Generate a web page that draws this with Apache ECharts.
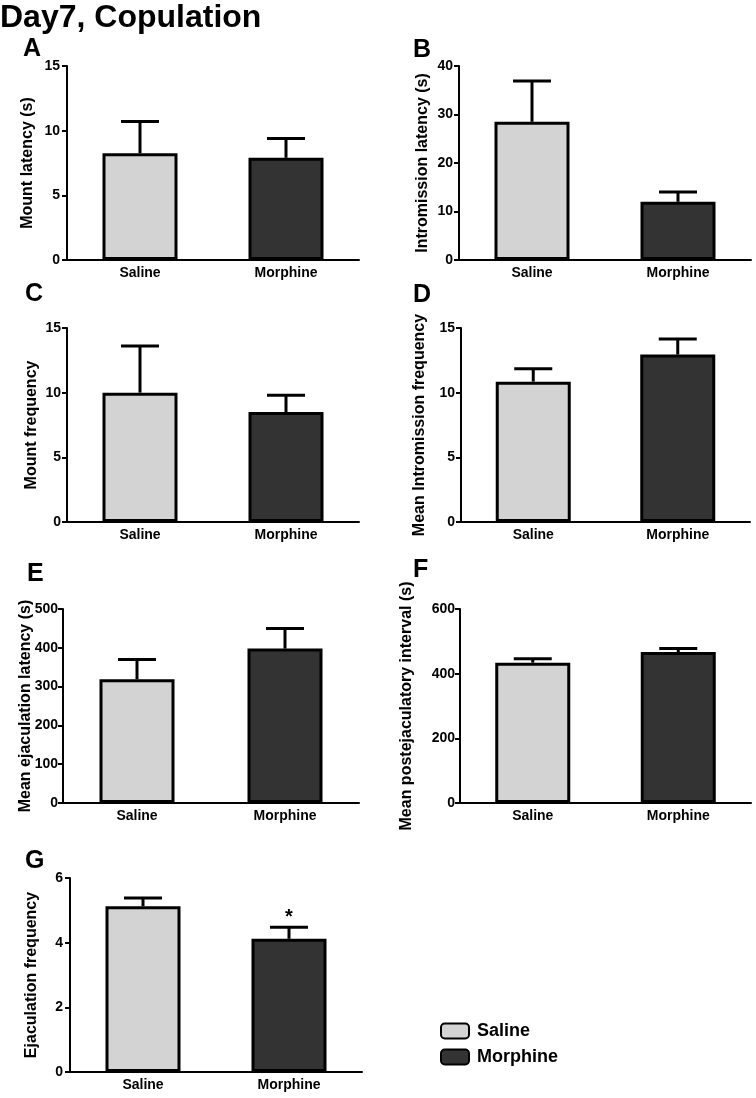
<!DOCTYPE html>
<html>
<head>
<meta charset="utf-8">
<script src="https://cdn.jsdelivr.net/npm/echarts@6/dist/echarts.min.js"></script>
<style>
html,body{margin:0;padding:0;background:#fff;}
#chart{width:756px;height:1098px;}
</style>
</head>
<body>
<div id="chart"></div>
<script>
// ---- data ----
const categories = ['Saline', 'Morphine'];
const panelLetters = ['A', 'B', 'C', 'D', 'E', 'F', 'G'];
const yAxisNames = ['Mount latency (s)', 'Intromission latency (s)', 'Mount frequency',
  'Mean Intromission frequency', 'Mean ejaculation latency (s)',
  'Mean postejaculatory interval (s)', 'Ejaculation frequency'];
const yAxisMax = [15, 40, 15, 15, 500, 600, 6];
const yAxisInterval = [5, 10, 5, 5, 100, 200, 2];

const mountLatencyMean = [8.25, 7.9];
const mountLatencySem = [2.45, 1.5];
const intromissionLatencyMean = [28.5, 12.0];
const intromissionLatencySem = [8.4, 2.0];
const mountFrequencyMean = [10.0, 8.5];
const mountFrequencySem = [3.6, 1.3];
const intromissionFrequencyMean = [10.85, 12.95];
const intromissionFrequencySem = [1.0, 1.2];
const ejaculationLatencyMean = [319, 398];
const ejaculationLatencySem = [51, 52];
const postejaculatoryIntervalMean = [434, 467];
const postejaculatoryIntervalSem = [12, 11];
const ejaculationFrequencyMean = [5.13, 4.12];
const ejaculationFrequencySem = [0.25, 0.36];
const ejaculationFrequencySig = ['', '*'];

const means = [mountLatencyMean, intromissionLatencyMean, mountFrequencyMean,
  intromissionFrequencyMean, ejaculationLatencyMean, postejaculatoryIntervalMean,
  ejaculationFrequencyMean];
const sems = [mountLatencySem, intromissionLatencySem, mountFrequencySem,
  intromissionFrequencySem, ejaculationLatencySem, postejaculatoryIntervalSem,
  ejaculationFrequencySem];
const sigs = [['', ''], ['', ''], ['', ''], ['', ''], ['', ''], ['', ''], ejaculationFrequencySig];

// ---- layout ----
const FONT = "'Liberation Sans', Arial, Helvetica, sans-serif";
const grids = [
  {left: 67, top: 66, width: 292, height: 194},
  {left: 459, top: 66, width: 292, height: 194},
  {left: 67, top: 328, width: 292, height: 194},
  {left: 461, top: 328, width: 289, height: 194},
  {left: 63, top: 609, width: 296, height: 194},
  {left: 460, top: 609, width: 291, height: 194},
  {left: 70, top: 878, width: 292, height: 194}
];
const nameGaps = [31, 28, 27, 33, 29, 45, 30];
const labelMargins = [7, 6, 6, 6, 5, 5, 7];
const letterPos = [[23, 49], [413, 50], [25, 294], [413, 295], [27, 574], [413, 570], [25, 861]];
const colors = {Saline: '#d3d3d3', Morphine: '#333333'};

const option = {
  backgroundColor: '#ffffff',
  animation: false,
  grid: grids.map(g => Object.assign({containLabel: false}, g)),
  legend: {
    orient: 'vertical',
    left: 435,
    top: 1017,
    itemWidth: 28,
    itemHeight: 15,
    itemGap: 8,
    data: categories,
    textStyle: {fontFamily: FONT, fontWeight: 'bold', fontSize: 18, color: '#000', padding: [0, 0, 0, 3]}
  },
  xAxis: grids.map((g, i) => ({
    gridIndex: i,
    type: 'category',
    data: categories,
    boundaryGap: true,
    axisLine: {lineStyle: {color: '#000', width: 2}},
    axisTick: {alignWithLabel: true, length: 5, lineStyle: {color: '#000', width: 2}},
    axisLabel: {color: '#000', fontFamily: FONT, fontWeight: 'bold', fontSize: 14, margin: 6},
    splitLine: {show: false}
  })),
  yAxis: grids.map((g, i) => ({
    gridIndex: i,
    type: 'value',
    min: 0,
    max: yAxisMax[i],
    interval: yAxisInterval[i],
    name: yAxisNames[i],
    nameLocation: 'middle',
    nameGap: nameGaps[i],
    nameMoveOverlap: false,
    nameTextStyle: {color: '#000', fontFamily: FONT, fontWeight: 'bold', fontSize: 16},
    axisLine: {show: true, lineStyle: {color: '#000', width: 2}},
    axisTick: {show: true, length: 5, lineStyle: {color: '#000', width: 2}},
    axisLabel: {color: '#000', fontFamily: FONT, fontWeight: 'bold', fontSize: 14, margin: labelMargins[i]},
    splitLine: {show: false}
  })),
  graphic: [
    {type: 'text', x: 0, y: 18, style: {text: 'Day7, Copulation', font: 'bold 32px ' + FONT, fill: '#000', verticalAlign: 'middle', align: 'left'}}
  ].concat(panelLetters.map((L, i) => ({
    type: 'text', x: letterPos[i][0], y: letterPos[i][1],
    style: {text: L, font: 'bold 25px ' + FONT, fill: '#000', verticalAlign: 'middle', align: 'left'}
  }))),
  series: []
};

grids.forEach((g, i) => {
  categories.forEach((cat, c) => {
    option.series.push({
      name: cat,
      type: 'bar',
      xAxisIndex: i,
      yAxisIndex: i,
      barWidth: 75,
      barGap: '-100%',
      data: categories.map((_, k) => (k === c ? means[i][k] : '-')),
      itemStyle: {color: colors[cat], borderColor: '#000', borderWidth: 3},
      emphasis: {disabled: true},
      z: 2
    });
  });
  option.series.push({
    type: 'custom',
    xAxisIndex: i,
    yAxisIndex: i,
    z: 5,
    silent: true,
    data: categories.map((_, k) => [k, means[i][k], means[i][k] + sems[i][k], sigs[i][k]]),
    renderItem: function (params, api) {
      const base = api.coord([api.value(0), api.value(1)]);
      const top = api.coord([api.value(0), api.value(2)]);
      const half = 19;
      const children = [
        {type: 'line', shape: {x1: base[0], y1: base[1], x2: top[0], y2: top[1]},
          style: {stroke: '#000', lineWidth: 3}},
        {type: 'line', shape: {x1: top[0] - half, y1: top[1], x2: top[0] + half, y2: top[1]},
          style: {stroke: '#000', lineWidth: 3}}
      ];
      const s = sigs[i][params.dataIndex];
      if (s) {
        children.push({type: 'text', x: top[0], y: top[1] - 10,
          style: {text: s, font: 'bold 20px ' + FONT, fill: '#000', align: 'center', verticalAlign: 'middle'}});
      }
      return {type: 'group', children: children};
    }
  });
});

const chart = echarts.init(document.getElementById('chart'), null, {renderer: 'canvas'});
chart.setOption(option);
</script>
</body>
</html>
